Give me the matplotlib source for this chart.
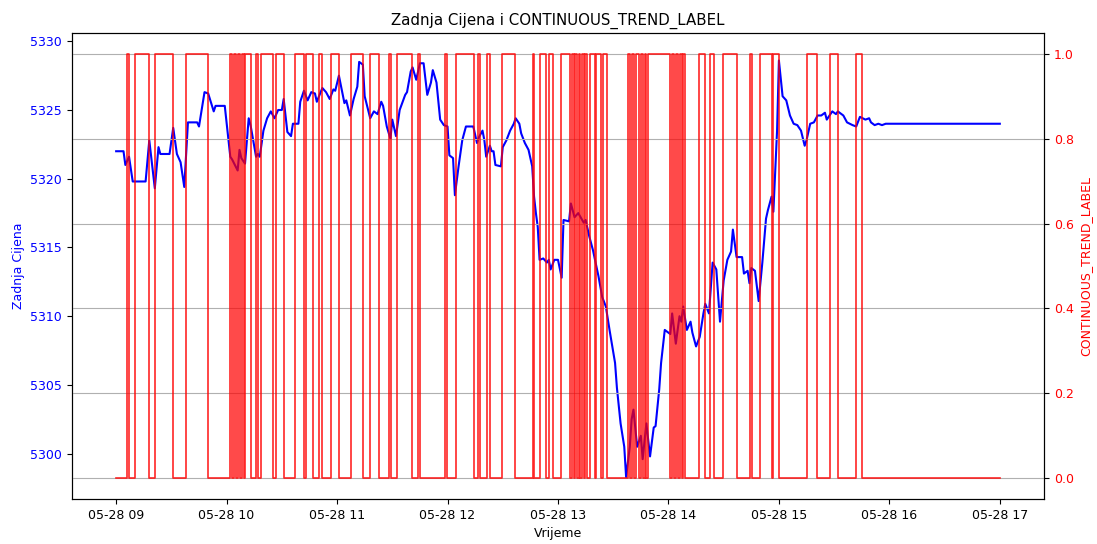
import matplotlib

matplotlib.use("Agg")
import matplotlib.pyplot as plt
import matplotlib.dates as mdates
import pandas as pd

# minutes after 09:00 and last price
price_min = [
    0, 4, 5, 7, 9, 16, 18, 21, 23, 24,
    29, 31, 33, 35, 37, 39, 44, 45, 48, 50,
    53, 54, 59, 62, 63, 66, 67, 68, 70, 72,
    73, 76, 77, 78, 80, 82, 84, 86, 88, 90,
    91, 93, 95, 96, 99, 100, 102, 104, 106, 108,
    109, 112, 114, 116, 118, 119, 121, 124, 125, 127,
    129, 131, 132, 134, 135, 138, 140, 142, 144, 145,
    147, 149, 150, 152, 154, 157, 158, 160, 161, 163,
    165, 167, 169, 171, 172, 174, 176, 178, 180, 181,
    183, 184, 186, 188, 190, 194, 196, 197, 199, 200,
    201, 203, 204, 205, 206, 209, 210, 212, 214, 216,
    217, 219, 220, 222, 224, 226, 227, 228, 229, 230,
    232, 234, 235, 236, 238, 240, 242, 243, 246, 247,
    249, 251, 254, 255, 257, 259, 262, 264, 266, 268,
    271, 272, 274, 276, 277, 279, 280, 281, 283, 285,
    286, 288, 290, 292, 293, 295, 296, 298, 300, 301,
    302, 304, 306, 307, 308, 310, 312, 313, 315, 317,
    319, 320, 322, 324, 326, 328, 330, 332, 334, 335,
    337, 340, 341, 343, 344, 345, 347, 349, 351, 353,
    354, 356, 357, 359, 360, 362, 364, 366, 368, 370,
    372, 374, 375, 377, 379, 381, 383, 385, 386, 389,
    391, 392, 395, 397, 400, 402, 404, 407, 409, 410,
    412, 414, 416, 418, 480,
]
price = [
    5322.0, 5322.0, 5321.0, 5321.6, 5319.8, 5319.8, 5322.8, 5319.3, 5322.3, 5321.8,
    5321.8, 5323.7, 5321.8, 5321.2, 5319.4, 5324.1, 5324.1, 5323.8, 5326.3, 5326.2,
    5324.9, 5325.3, 5325.3, 5321.6, 5321.4, 5320.6, 5322.1, 5321.5, 5321.1, 5324.4,
    5323.9, 5321.6, 5321.8, 5321.6, 5323.5, 5324.4, 5324.9, 5324.4, 5325.0, 5325.0,
    5325.8, 5323.4, 5323.1, 5324.0, 5324.0, 5325.6, 5326.4, 5325.7, 5326.3, 5326.2,
    5325.6, 5326.6, 5326.3, 5325.8, 5326.5, 5326.4, 5327.5, 5325.5, 5325.7, 5324.6,
    5325.8, 5326.7, 5328.5, 5328.3, 5326.0, 5324.4, 5324.9, 5324.7, 5325.6, 5325.3,
    5323.8, 5322.9, 5324.3, 5323.1, 5325.0, 5326.1, 5326.3, 5327.8, 5328.1, 5327.2,
    5328.4, 5328.4, 5326.1, 5327.0, 5327.9, 5327.0, 5324.3, 5323.9, 5323.8, 5321.7,
    5321.5, 5318.8, 5320.9, 5322.8, 5323.8, 5323.8, 5322.6, 5323.0, 5323.5, 5322.8,
    5321.6, 5322.4, 5322.0, 5322.0, 5321.0, 5320.9, 5322.3, 5322.8, 5323.5, 5324.0,
    5324.4, 5324.0, 5323.3, 5322.6, 5322.1, 5320.9, 5318.7, 5317.5, 5316.5, 5314.1,
    5314.2, 5313.9, 5314.1, 5313.4, 5314.1, 5314.1, 5312.8, 5317.0, 5316.9, 5318.2,
    5317.2, 5317.5, 5316.8, 5317.0, 5315.8, 5314.8, 5312.9, 5311.4, 5310.7, 5309.0,
    5306.6, 5304.8, 5302.2, 5300.5, 5298.3, 5300.5, 5302.5, 5303.2, 5300.5, 5301.3,
    5299.6, 5302.2, 5299.8, 5301.9, 5302.0, 5304.7, 5306.6, 5309.0, 5308.8, 5308.7,
    5310.2, 5308.0, 5310.0, 5309.6, 5310.7, 5309.0, 5309.6, 5308.8, 5307.8, 5308.5,
    5310.2, 5310.9, 5310.2, 5313.9, 5313.4, 5309.6, 5312.6, 5314.1, 5314.7, 5316.3,
    5314.3, 5314.3, 5313.1, 5313.3, 5312.4, 5313.5, 5313.3, 5311.1, 5313.9, 5317.1,
    5317.7, 5318.7, 5317.6, 5323.5, 5328.6, 5326.0, 5325.7, 5324.6, 5324.0, 5323.9,
    5323.5, 5322.4, 5322.8, 5324.0, 5324.1, 5324.6, 5324.6, 5324.8, 5324.3, 5324.9,
    5324.7, 5324.9, 5324.6, 5324.1, 5323.9, 5323.8, 5324.5, 5324.3, 5324.4, 5324.1,
    5323.9, 5324.0, 5323.9, 5324.0, 5324.0,
]

# minutes after 09:00 where the 0/1 trend label flips (starts at 0)
label_flips = [
    6, 7, 10, 18, 21, 31, 38, 50,
    62, 63, 64, 65, 66, 67.5, 68.5, 69.5, 70, 73.3, 76, 77, 78.5, 85,
    87, 91, 97, 102, 103, 107, 110, 112, 116.5, 121,
    127.6, 134, 138, 143, 148, 149.3, 152.6, 160.7, 163.8, 165.2,
    178.8, 179.7, 184.8, 194.2, 196.4, 197.4, 201.5, 202.9, 209.6, 216.8,
    226.4, 227.1, 230.5, 233.7, 234.9, 237.5, 241.8, 246.7,
    247.6, 248.5, 249.5, 250.3, 251.2, 252.2, 253, 254, 254.8, 255.8,
    257.5, 260, 260.8, 263.5, 264.2, 266.6,
    278.3, 279.3, 280.2, 281.5, 282.5, 284, 285, 286.3, 287.2, 288, 289, 301,
    302, 303, 304, 305, 306.3, 307.3, 308, 309,
    316.4, 320, 322.3, 324.5, 329.6, 337.2, 344.5, 345.4, 350, 356, 357, 360,
    375, 380.6, 388, 392, 402, 405,
]
end_min = 480

start = pd.Timestamp("2024-05-28 09:00")
price_t = start + pd.to_timedelta(price_min, unit="min")

lab_x = [0]
lab_y = [0]
state = 0
for f in label_flips:
    state = 1 - state
    lab_x.append(f)
    lab_y.append(state)
lab_x.append(end_min)
lab_y.append(state)
lab_t = start + pd.to_timedelta(lab_x, unit="min")

plt.rcParams["font.size"] = 9

fig, ax1 = plt.subplots(figsize=(10.97, 5.44), dpi=100)
fig.subplots_adjust(left=0.0656, right=0.9517, top=0.9393, bottom=0.0827)

ax1.plot(price_t, price, color="blue", linewidth=1.5)
ax1.set_ylim(5296.7, 5330.6)
ax1.set_xlabel("Vrijeme")
ax1.set_ylabel("Zadnja Cijena", color="blue")
ax1.tick_params(axis="y", labelcolor="blue")

ax2 = ax1.twinx()
ax2.plot(lab_t, lab_y, color="red", linewidth=1.2, alpha=0.85,
         drawstyle="steps-post")
ax2.set_ylabel("CONTINUOUS_TREND_LABEL", color="red")
ax2.tick_params(axis="y", labelcolor="red")
ax2.grid(True)

ax1.xaxis.set_major_locator(mdates.HourLocator())
ax1.xaxis.set_major_formatter(mdates.DateFormatter("%m-%d %H"))

ax1.set_title("Zadnja Cijena i CONTINUOUS_TREND_LABEL")

fig.savefig("out.png", dpi=100)
plt.close(fig)
